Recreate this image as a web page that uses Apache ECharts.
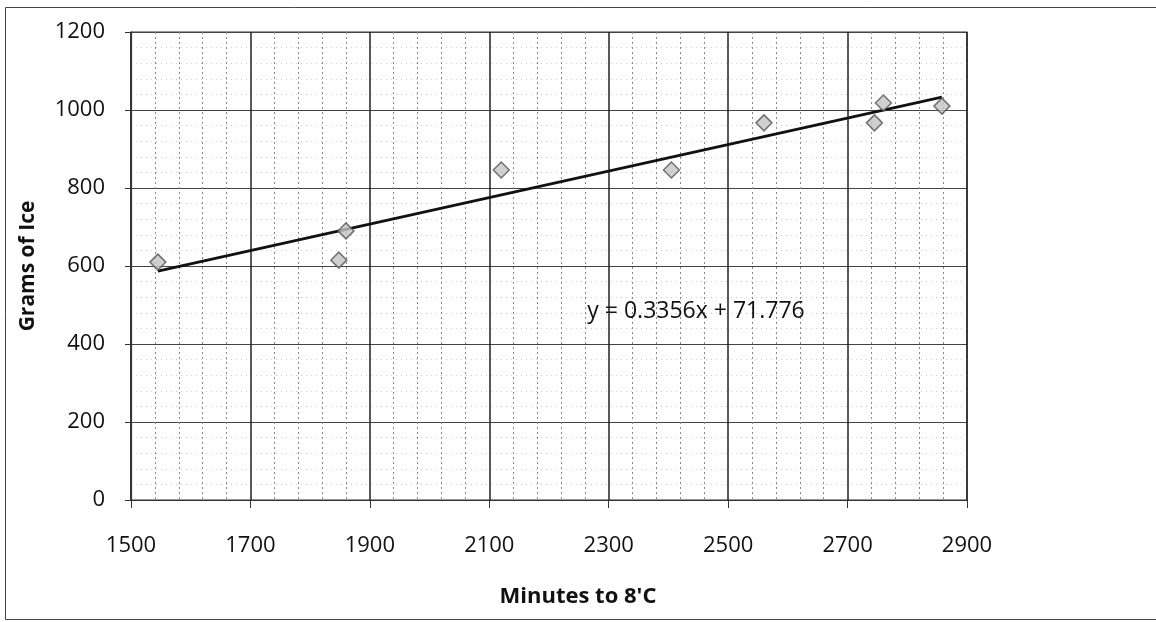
<!DOCTYPE html>
<html>
<head>
<meta charset="utf-8">
<script src="https://cdn.jsdelivr.net/npm/echarts@6/dist/echarts.min.js"></script>
<style>
html,body{margin:0;padding:0;background:#fff;}
#c{width:1156px;height:622px;}
</style>
</head>
<body>
<div id="c"></div>
<script>
// Data
const minutes = [1545, 1848, 1860, 2120, 2405, 2560, 2745, 2760, 2858];
const gramsOfIce = [610, 615, 690, 846, 846, 967, 967, 1018, 1010];
const trendX = [1545, 2858];
const trendY = [587, 1033];
const xTicks = [1500, 1700, 1900, 2100, 2300, 2500, 2700, 2900];
const yTicks = [0, 200, 400, 600, 800, 1000, 1200];
const equationText = 'y = 0.3356x + 71.776';
const xTitle = "Minutes to 8'C";
const yTitle = 'Grams of Ice';

const points = minutes.map((m, i) => [m, gramsOfIce[i]]);
const trend = trendX.map((x, i) => [x, trendY[i]]);
const FONT = '"Open Sans", "Noto Sans", sans-serif';

const chart = echarts.init(document.getElementById('c'));
chart.setOption({
  animation: false,
  backgroundColor: '#fff',
  grid: { left: 131, top: 32, right: 189, bottom: 122, containLabel: false,
          show: true, borderColor: '#333', borderWidth: 1.2 },
  xAxis: {
    type: 'value',
    min: xTicks[0], max: xTicks[xTicks.length - 1], interval: 200,
    name: xTitle, nameLocation: 'middle', nameGap: 86,
    nameTextStyle: { fontFamily: FONT, fontSize: 22, fontWeight: 'bold', color: '#111',
                     padding: [0, 0, 0, 58] },
    axisLine: { show: true, lineStyle: { color: '#333', width: 1.2 } },
    axisTick: { show: true, length: 8, lineStyle: { color: '#333' } },
    axisLabel: { margin: 35, fontFamily: FONT, fontSize: 22, color: '#111',
                 formatter: v => String(v) },
    splitLine: { show: true, lineStyle: { color: '#222', width: 1.5 } },
    minorTick: { show: false, splitNumber: 5 },
    minorSplitLine: { show: true, lineStyle: { color: '#888', width: 1, type: [2, 3] } }
  },
  yAxis: {
    type: 'value',
    min: yTicks[0], max: yTicks[yTicks.length - 1], interval: 200,
    name: yTitle, nameLocation: 'middle', nameGap: 92,
    nameTextStyle: { fontFamily: FONT, fontSize: 21, fontWeight: 'bold', color: '#111' },
    axisLine: { show: true, lineStyle: { color: '#333', width: 1.2 } },
    axisTick: { show: true, length: 6, lineStyle: { color: '#333' } },
    axisLabel: { margin: 26, fontFamily: FONT, fontSize: 22, color: '#111',
                 formatter: v => String(v) },
    splitLine: { show: true, lineStyle: { color: '#444', width: 1.2 } },
    minorTick: { show: false, splitNumber: 5 },
    minorSplitLine: { show: true, lineStyle: { color: '#ccc', width: 1, type: [1, 4] } }
  },
  series: [
    {
      type: 'line',
      data: trend,
      symbol: 'none',
      lineStyle: { color: '#111', width: 2.8 },
      z: 3
    },
    {
      type: 'scatter',
      data: points,
      symbol: 'diamond',
      symbolSize: [16, 16],
      itemStyle: { color: '#c4c4c4', borderColor: '#555', borderWidth: 1.5 },
      z: 4
    }
  ],
  graphic: [
    { type: 'rect', shape: { x: 5.5, y: 7.5, width: 1300, height: 612 },
      style: { fill: 'none', stroke: '#444', lineWidth: 1 }, silent: true, z: 10 },
    { type: 'text', x: 696, y: 311,
      style: { text: equationText, font: '23px "Open Sans", sans-serif', fill: '#111',
               align: 'center', verticalAlign: 'middle' }, z: 11 }
  ]
});
</script>
</body>
</html>
